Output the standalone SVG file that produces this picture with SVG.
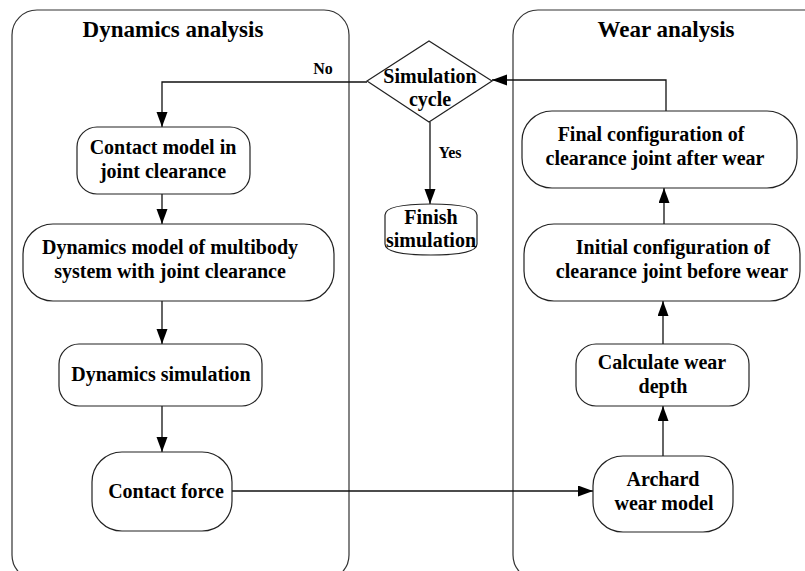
<svg xmlns="http://www.w3.org/2000/svg" width="805" height="571" viewBox="0 0 805 571">
<style>
.panel{fill:none;stroke:#333;stroke-width:1.2}
.box{fill:#fff;stroke:#222;stroke-width:1.2}
.t{font-family:"Liberation Serif","Times New Roman",serif;font-weight:bold;font-size:20px;fill:#000;text-anchor:middle}
.title{font-size:23px}
.lbl{font-size:16px}
.c{fill:none;stroke:#111;stroke-width:1.3;marker-end:url(#ah)}
</style>
<defs>
<marker id="ah" markerUnits="userSpaceOnUse" markerWidth="16" markerHeight="12" refX="15" refY="5.5" orient="auto">
<path d="M0,0 L15,5.5 L0,11 Z" fill="#000"/>
</marker>
</defs>
<rect width="805" height="571" fill="#fff"/>
<g id="panel-dynamics">
<rect class="panel" x="12" y="10" width="337" height="570" rx="25"/>
<text class="t title" x="173" y="37">Dynamics analysis</text>
</g>
<g id="panel-wear">
<rect class="panel" x="513" y="10" width="320" height="570" rx="25"/>
<text class="t title" x="666" y="37">Wear analysis</text>
</g>
<g id="connectors">
<path class="c" d="M367,82 H162 V127"/>
<path class="c" d="M162,194 V224"/>
<path class="c" d="M162,301 V344"/>
<path class="c" d="M162,406 V452"/>
<path class="c" d="M232,491 H593"/>
<path class="c" d="M663,456 V406"/>
<path class="c" d="M663,344 V301"/>
<path class="c" d="M664,224 V188"/>
<path class="c" d="M666,111 V80 H492"/>
<path class="c" d="M430,122 V204"/>
<text class="t lbl" x="323" y="74">No</text>
<text class="t lbl" x="450" y="158">Yes</text>
</g>
<g id="simulation-cycle">
<polygon class="box" points="367,81 429,41 492,81 429,122"/>
<text class="t" x="430" y="83">Simulation</text>
<text class="t" x="430" y="106">cycle</text>
</g>
<g id="finish-simulation">
<path class="box" d="M385,215 Q385,204 431,204 Q477,204 477,215 V244 Q477,255 431,255 Q385,255 385,244 Z"/>
<text class="t" x="431" y="224">Finish</text>
<text class="t" x="431" y="247">simulation</text>
</g>
<g id="contact-model">
<rect class="box" x="77" y="127" width="173" height="67" rx="20"/>
<text class="t" x="163" y="154">Contact model in</text>
<text class="t" x="163" y="178">joint clearance</text>
</g>
<g id="dynamics-model">
<rect class="box" x="23" y="224" width="311" height="77" rx="30"/>
<text class="t" x="170" y="254">Dynamics model of multibody</text>
<text class="t" x="170" y="278">system with joint clearance</text>
</g>
<g id="dynamics-simulation">
<rect class="box" x="59" y="344" width="203" height="62" rx="20"/>
<text class="t" x="161" y="381">Dynamics simulation</text>
</g>
<g id="contact-force">
<rect class="box" x="92" y="452" width="140" height="79" rx="30"/>
<text class="t" x="166" y="498">Contact force</text>
</g>
<g id="archard">
<rect class="box" x="593" y="456" width="140" height="76" rx="30"/>
<text class="t" x="663" y="486">Archard</text>
<text class="t" x="664" y="510">wear model</text>
</g>
<g id="calculate-wear">
<rect class="box" x="576" y="344" width="173" height="62" rx="20"/>
<text class="t" x="662" y="369">Calculate wear</text>
<text class="t" x="663" y="393">depth</text>
</g>
<g id="initial-config">
<rect class="box" x="524" y="224" width="276" height="77" rx="30"/>
<text class="t" x="673" y="254">Initial configuration of</text>
<text class="t" x="672" y="278">clearance joint before wear</text>
</g>
<g id="final-config">
<rect class="box" x="522" y="111" width="275" height="77" rx="30"/>
<text class="t" x="651" y="141">Final configuration of</text>
<text class="t" x="655" y="165">clearance joint after wear</text>
</g>
</svg>
